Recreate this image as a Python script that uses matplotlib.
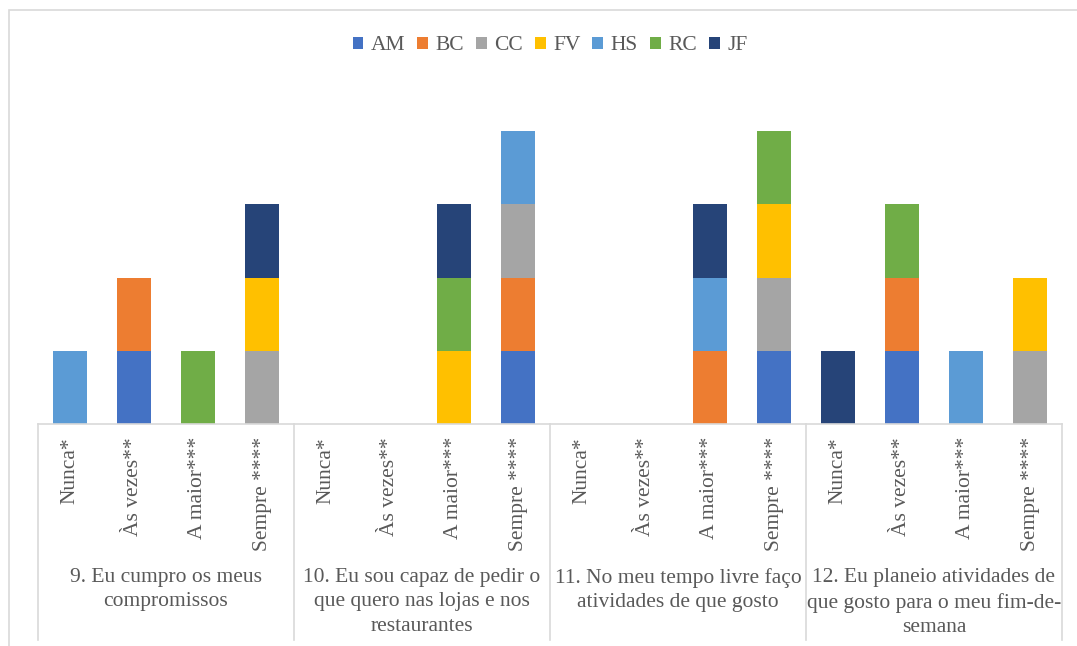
import matplotlib.pyplot as plt
import matplotlib.transforms as mtransforms
from matplotlib.patches import Rectangle
import numpy as np

plt.rcParams['font.family'] = ['Liberation Serif', 'DejaVu Serif']

# categories (4 answers x 4 questions)
answers = ['Nunca*', 'Às vezes**', 'A maior***', 'Sempre ****']
questions = ['9. Eu cumpro os meus\ncompromissos',
             '10. Eu sou capaz de pedir o\nque quero nas lojas e nos\nrestaurantes',
             '11. No meu tempo livre faço\natividades de que gosto',
             '12. Eu planeio atividades de\nque gosto para o meu fim-de-\nsemana']

names = ['AM', 'BC', 'CC', 'FV', 'HS', 'RC', 'JF']
colors = ['#4472C4', '#ED7D31', '#A5A5A5', '#FFC000', '#5B9BD5', '#70AD47', '#264478']

#        q9        q10       q11       q12
AM = [0, 1, 0, 0, 0, 0, 0, 1, 0, 0, 0, 1, 0, 1, 0, 0]
BC = [0, 1, 0, 0, 0, 0, 0, 1, 0, 0, 1, 0, 0, 1, 0, 0]
CC = [0, 0, 0, 1, 0, 0, 0, 1, 0, 0, 0, 1, 0, 0, 0, 1]
FV = [0, 0, 0, 1, 0, 0, 1, 0, 0, 0, 0, 1, 0, 0, 0, 1]
HS = [1, 0, 0, 0, 0, 0, 0, 1, 0, 0, 1, 0, 0, 0, 1, 0]
RC = [0, 0, 1, 0, 0, 0, 1, 0, 0, 0, 0, 1, 0, 1, 0, 0]
JF = [0, 0, 0, 1, 0, 0, 1, 0, 0, 0, 1, 0, 1, 0, 0, 0]
series = [AM, BC, CC, FV, HS, RC, JF]

W, H = 1077, 646
fig = plt.figure(figsize=(W / 100, H / 100), dpi=100)
ax = fig.add_axes([38 / W, 1 - 424 / H, 1024 / W, 366 / H])

x = np.arange(16)
bottom = np.zeros(16)
for nm, col, vals in zip(names, colors, series):
    ax.bar(x, vals, 0.52, bottom=bottom, color=col, label=nm)
    bottom += np.array(vals)

ax.set_xlim(-0.5, 15.5)
ax.set_ylim(0, 5)
for s in ['top', 'right', 'left']:
    ax.spines[s].set_visible(False)
ax.spines['bottom'].set_color('#D9D9D9')
ax.spines['bottom'].set_linewidth(1.2)
ax.set_yticks([])
ax.set_xticks([])

txt = '#595959'
fs = 15.5
trans = mtransforms.blended_transform_factory(ax.transData, ax.transAxes)
px = 1 / 366  # one pixel in axes units (vertical)
for i in range(16):
    ax.text(i, -13 * px, answers[i % 4], rotation=90, ha='center', va='top',
            fontsize=fs, color=txt, transform=trans)
for g in range(4):
    ax.text(g * 4 + 1.5, -144 * px, questions[g], ha='center', va='top',
            fontsize=fs, color=txt, transform=trans, linespacing=1.38)
for b in [-0.5, 3.5, 7.5, 11.5, 15.5]:
    ax.plot([b, b], [0, -216 * px], color='#D9D9D9', lw=1.2,
            transform=trans, clip_on=False)

ax.legend(loc='center', bbox_to_anchor=(0.5, 1 + (58 - 46) * px),
          ncol=7, frameon=False, fontsize=fs, handlelength=0.5,
          handleheight=0.5, handletextpad=0.35, columnspacing=0.55,
          labelcolor=txt)

fig.patches.append(Rectangle((9 / W, -0.1), 1.2, 1 - 10 / H + 0.1,
                             transform=fig.transFigure, fill=False,
                             edgecolor='#D9D9D9', lw=1.2))

fig.savefig('out.png', dpi=100)
